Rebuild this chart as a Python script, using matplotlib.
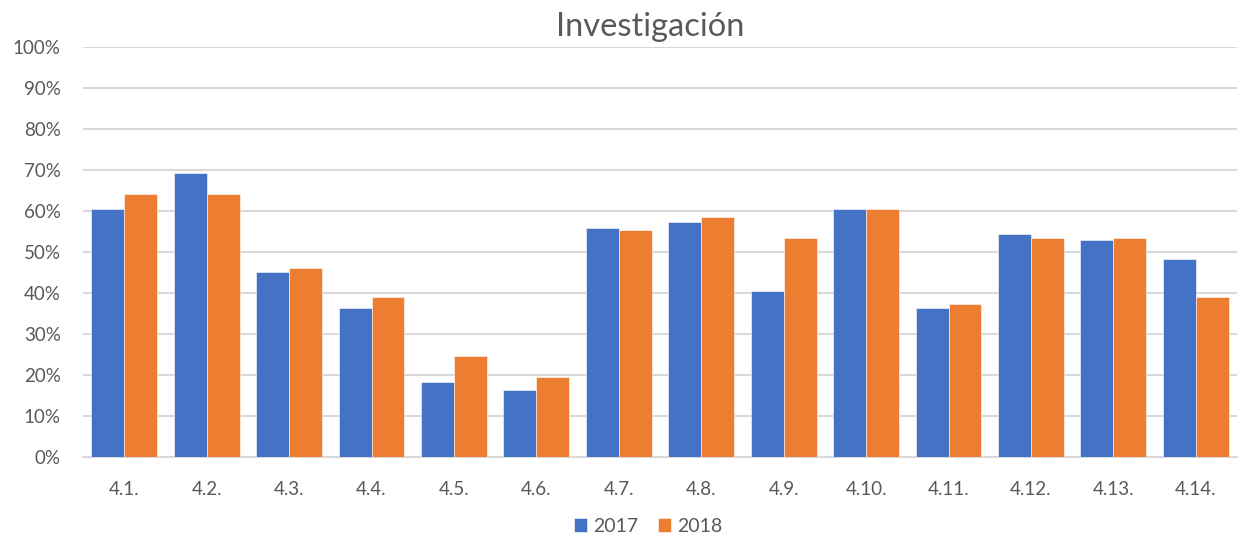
import matplotlib
matplotlib.use("Agg")
import matplotlib.pyplot as plt
import numpy as np
from matplotlib.ticker import FuncFormatter

categories = ["4.1.", "4.2.", "4.3.", "4.4.", "4.5.", "4.6.", "4.7.",
              "4.8.", "4.9.", "4.10.", "4.11.", "4.12.", "4.13.", "4.14."]
values_2017 = [60.5, 69.2, 45.1, 36.3, 18.2, 16.4, 55.8, 57.3, 40.4, 60.5, 36.3, 54.4, 53.0, 48.4]
values_2018 = [64.1, 64.1, 46.1, 39.1, 24.7, 19.5, 55.3, 58.6, 53.5, 60.5, 37.3, 53.5, 53.5, 39.1]
series_names = ["2017", "2018"]
title = "Investigación"

plt.rcParams['font.family'] = ['Lato', 'DejaVu Sans']
text_color = "#595959"
grid_color = "#d9d9d9"
colors = ["#4472C4", "#ED7D31"]

fig = plt.figure(figsize=(12.47, 5.39), dpi=100)
ax = fig.add_axes([83/1247, 1-457/539, (1237-83)/1247, (457-47)/539])

x = np.arange(len(categories))
w = 0.4
ax.bar(x - w/2, values_2017, width=w, color=colors[0], label=series_names[0],
       edgecolor="white", linewidth=0.4, zorder=3)
ax.bar(x + w/2, values_2018, width=w, color=colors[1], label=series_names[1],
       edgecolor="white", linewidth=0.4, zorder=3)

ax.set_xlim(-0.5, len(categories) - 0.5)
ax.set_ylim(0, 100)
ax.set_yticks(np.arange(0, 101, 10))
ax.yaxis.set_major_formatter(FuncFormatter(lambda v, p: f"{int(v)}%"))
ax.set_xticks(x)
ax.set_xticklabels(categories)
ax.yaxis.grid(True, color=grid_color, linewidth=1.5, zorder=0)
ax.set_axisbelow(True)
for s in ["top", "right", "left"]:
    ax.spines[s].set_visible(False)
ax.spines["bottom"].set_color(grid_color)
ax.spines["bottom"].set_linewidth(1.5)
ax.tick_params(axis="both", length=0, labelsize=13.5, colors=text_color)
ax.tick_params(axis="x", pad=17)
ax.tick_params(axis="y", pad=16)

fig.text(650/1247, 1 - 27/539, title, ha="center", va="center", fontsize=23.5, color=text_color)

leg = fig.legend(loc="center", bbox_to_anchor=(648/1247, 1 - 526/539), ncol=2,
                 frameon=False, fontsize=14, handlelength=0.7, handleheight=0.7,
                 handletextpad=0.3, columnspacing=1.0, labelcolor=text_color)

fig.savefig("out.png", dpi=100)
